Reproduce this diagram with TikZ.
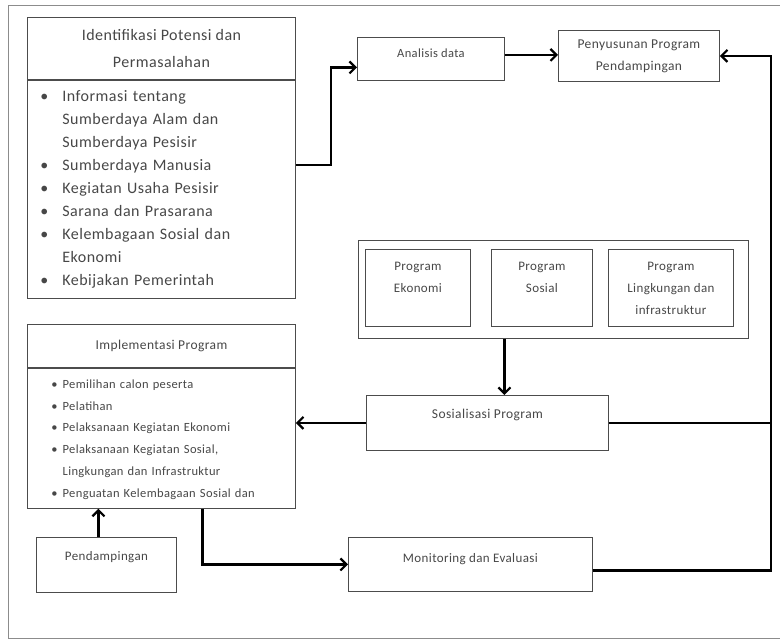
\documentclass[tikz,border=0pt]{standalone}
\usepackage{fontspec}
\setmainfont{Carlito}[LetterSpace=3]
\usetikzlibrary{arrows.meta, positioning, calc}

\begin{document}
\begin{tikzpicture}[x=1pt, y=1pt,
    box/.style={draw=black!70, line width=0.9pt, text=black!72, inner sep=0pt, font=\fontsize{12.5}{21}\selectfont},
    flow/.style={line width=2.2pt, -{Straight Barb[length=6pt, width=12pt, line width=2.2pt]}},
    link/.style={line width=2.2pt}
  ]
  \useasboundingbox (0,0) rectangle (780,640);

  % Frame
  \draw[black!45, line width=0.8pt] (780,635) -- (8,635) -- (8,2) -- (780,2);

  % Identification of potentials
  \node[box, anchor=north west, minimum width=268pt, minimum height=62pt, align=center, font=\fontsize{16}{27}\selectfont] (ident) at (27,623) {Identifikasi Potensi dan\\Permasalahan};
  \node[box, below=0pt of ident, minimum height=218pt, inner xsep=13pt, text width=242pt, font=\fontsize{16}{23}\selectfont] (identlist) {%
    \begin{tabular}{@{}l@{\hspace{14pt}}l@{}}
      \textbullet & Informasi tentang\\
                  & Sumberdaya Alam dan\\
                  & Sumberdaya Pesisir\\
      \textbullet & Sumberdaya Manusia\\
      \textbullet & Kegiatan Usaha Pesisir\\
      \textbullet & Sarana dan Prasarana\\
      \textbullet & Kelembagaan Sosial dan\\
                  & Ekonomi\\
      \textbullet & Kebijakan Pemerintah
    \end{tabular}};

  % Analysis and programme design
  \node[box, anchor=north west, minimum width=147pt, text height=20pt, text depth=23pt] (analisis) at (357,603) {Analisis data};
  \node[box, anchor=north west, minimum width=161pt, minimum height=51pt, align=center, font=\fontsize{13.5}{22}\selectfont] (penyusunan) at (558,610) {Penyusunan Program\\Pendampingan};

  % Programmes
  \node[box, anchor=north west, minimum width=390pt, minimum height=98pt] (programs) at (358,400) {};
  \node[box, anchor=north west, minimum width=105pt, minimum height=77pt, align=center, font=\fontsize{13}{22}\selectfont] (ekonomi) at (365,391) {Program\\Ekonomi\\\mbox{}};
  \node[box, anchor=north west, minimum width=101pt, minimum height=77pt, align=center, font=\fontsize{13}{22}\selectfont] (sosial) at (491,391) {Program\\Sosial\\\mbox{}};
  \node[box, anchor=north west, minimum width=125pt, minimum height=77pt, align=center, font=\fontsize{13}{22}\selectfont] (lingkungan) at (608,391) {Program\\Lingkungan dan\\infrastruktur};

  \node[box, anchor=north west, minimum width=242pt, text height=23pt, text depth=32pt, font=\fontsize{13.5}{20}\selectfont] (sosialisasi) at (366,245) {Sosialisasi Program};

  % Implementation
  \node[box, anchor=north west, minimum width=268pt, minimum height=43pt, font=\fontsize{13.5}{20}\selectfont] (impl) at (27,316) {Implementasi Program};
  \node[box, below=0pt of impl, minimum height=140pt, inner xsep=24pt, text width=220pt, font=\fontsize{12.5}{21.8}\selectfont] (implist) {%
    \begin{tabular}{@{}l@{\hspace{5pt}}l@{}}
      \textbullet & Pemilihan calon peserta\\
      \textbullet & Pelatihan\\
      \textbullet & Pelaksanaan Kegiatan Ekonomi\\
      \textbullet & Pelaksanaan Kegiatan Sosial,\\
                  & Lingkungan dan Infrastruktur\\
      \textbullet & Penguatan Kelembagaan Sosial dan
    \end{tabular}};

  \node[box, anchor=north west, minimum width=140pt, text height=23pt, text depth=32pt, font=\fontsize{13}{20}\selectfont] (pendampingan) at (36,103) {Pendampingan};
  \node[box, anchor=north west, minimum width=244pt, text height=25pt, text depth=29pt, font=\fontsize{13}{20}\selectfont] (monitoring) at (348,103) {Monitoring dan Evaluasi};

  % Connectors
  \coordinate (corner) at ([xshift=51pt]penyusunan.east);
  \draw[flow] ([yshift=24pt]identlist.east) -- ++(35,0) |- ([yshift=-8.5pt]analisis.west);
  \draw[flow] ([yshift=4pt]analisis.east) -- ([yshift=4pt]analisis.east -| penyusunan.west);
  \draw[flow] ([xshift=17pt]sosialisasi.north |- programs.south) -- ([xshift=17pt]sosialisasi.north);
  \draw[flow] (sosialisasi.west) -- (sosialisasi.west -| implist.east);
  \draw[flow] (sosialisasi.east) -| (corner) -- (penyusunan.east);
  \draw[link] ([yshift=-6pt]monitoring.east) -| (corner |- sosialisasi.east);
  \draw[flow] ([xshift=-8pt]pendampingan.north) -- ([xshift=-8pt]pendampingan.north |- implist.south);
  \draw[flow] ([xshift=41pt]implist.south) |- (monitoring.west);
\end{tikzpicture}
\end{document}
